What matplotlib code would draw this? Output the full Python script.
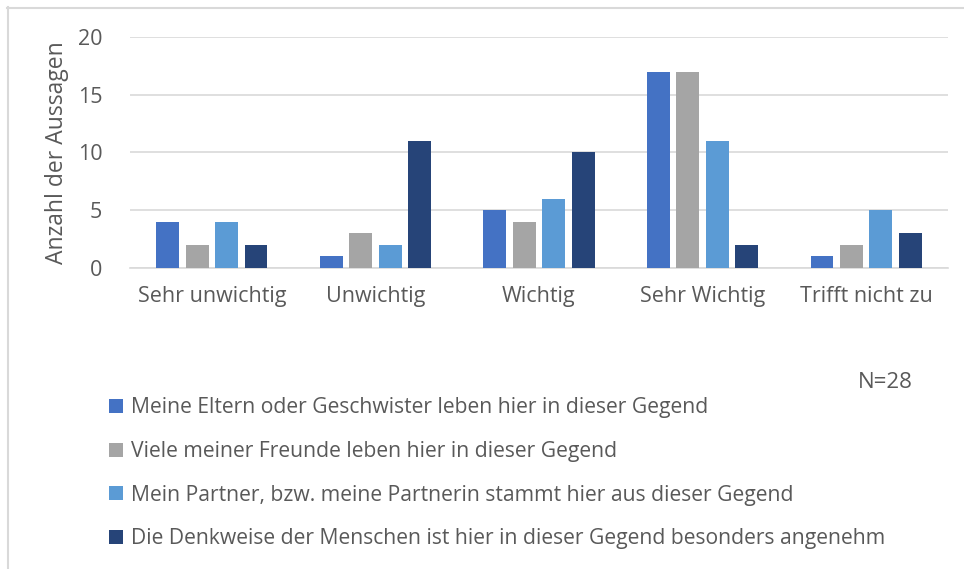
import matplotlib
matplotlib.use("Agg")
import matplotlib.pyplot as plt
from matplotlib.lines import Line2D
from matplotlib.patches import Patch
import numpy as np

categories = ["Sehr unwichtig", "Unwichtig", "Wichtig", "Sehr Wichtig", "Trifft nicht zu"]
series_names = [
    "Meine Eltern oder Geschwister leben hier in dieser Gegend",
    "Viele meiner Freunde leben hier in dieser Gegend",
    "Mein Partner, bzw. meine Partnerin stammt hier aus dieser Gegend",
    "Die Denkweise der Menschen ist hier in dieser Gegend besonders angenehm",
]
eltern = [4, 1, 5, 17, 1]
freunde = [2, 3, 4, 17, 2]
partner = [4, 2, 6, 11, 5]
denkweise = [2, 11, 10, 2, 3]
yticks = [0, 5, 10, 15, 20]

colors = ["#4472C4", "#A5A5A5", "#5B9BD5", "#264478"]
series = [eltern, freunde, partner, denkweise]

plt.rcParams['font.family'] = ['Open Sans', 'DejaVu Sans']
W, H = 964, 569
fig = plt.figure(figsize=(W/100, H/100), dpi=100)
ax = fig.add_axes([130/W, 1-268/H, 818/W, 231/H])

x = np.arange(len(categories))
step, width = 0.18, 0.14
for i, (vals, c) in enumerate(zip(series, colors)):
    ax.bar(x + (i - 1.5)*step, vals, width, color=c, label=series_names[i], zorder=3)

ax.set_xlim(-0.5, len(categories)-0.5)
ax.set_ylim(0, 20)
ax.set_yticks(yticks)
ax.set_xticks(x)
ax.set_xticklabels(categories)
ax.grid(axis='y', color='#D9D9D9', linewidth=1.2, zorder=0)
for s in ['top', 'right', 'left']:
    ax.spines[s].set_visible(False)
ax.spines['bottom'].set_color('#D9D9D9')
ax.spines['bottom'].set_linewidth(1.2)
ax.tick_params(axis='both', length=0, labelsize=15.5, labelcolor='#595959')
ax.tick_params(axis='x', pad=13)
ax.tick_params(axis='y', pad=20)
ax.set_ylabel("Anzahl der Aussagen", fontsize=16.5, color='#595959', labelpad=6)

handles = [Patch(facecolor=c) for c in colors]
fig.legend(handles, series_names, loc='upper left', bbox_to_anchor=(101/W, 1-389/H),
           frameon=False, fontsize=15.2, labelcolor='#595959', handlelength=0.65,
           handleheight=0.65, handletextpad=0.35, labelspacing=1.07, borderaxespad=0)

fig.text(885/W, 1-383/H, "N=28", fontsize=16, color='#595959', ha='center', va='center')

fig.add_artist(Line2D([7/W, 1], [1-7.5/H]*2, color='#D9D9D9', linewidth=1.5, transform=fig.transFigure))
fig.add_artist(Line2D([7.5/W]*2, [0, 1-7/H], color='#D9D9D9', linewidth=1.5, transform=fig.transFigure))

fig.savefig("out.png", dpi=100)
